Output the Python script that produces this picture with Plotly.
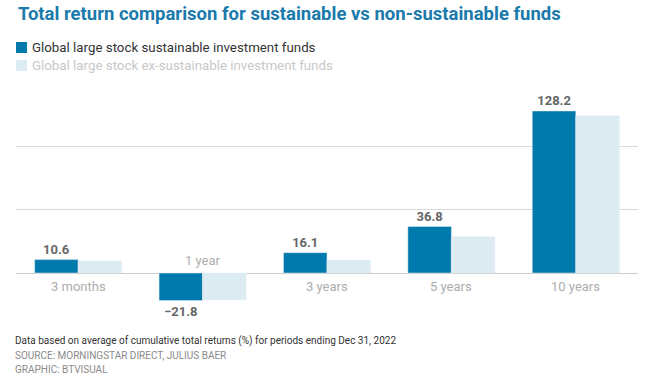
import plotly.graph_objects as go

categories = ["3 months", "1 year", "3 years", "5 years", "10 years"]
sustainable = [10.6, -21.8, 16.1, 36.8, 128.2]
ex_sustainable = [9.5, -21.3, 10.2, 28.6, 124.5]
series_names = ["Global large stock sustainable investment funds",
                "Global large stock ex-sustainable investment funds"]
title_text = "Total return comparison for sustainable vs non-sustainable funds"
footnotes = ["Data based on average of cumulative total returns (%) for periods ending Dec 31, 2022",
             "SOURCE: MORNINGSTAR DIRECT, JULIUS BAER",
             "GRAPHIC: BTVISUAL"]

DARK = "#0079ad"
LIGHT = "#ddebf2"
FONT = "Roboto"

W, H = 667, 380
L, R, T, B = 16, 29, 90, 50
PW, PH = W - L - R, H - T - B


def xp(px):
    return (px - L) / PW


def yp(py):
    return (H - B - py) / PH


fig = go.Figure()
fig.add_trace(go.Bar(
    x=categories, y=sustainable, name=series_names[0], marker_color=DARK,
    text=[f"{v:.1f}".replace("-", "\u2212") for v in sustainable], textposition="outside",
    textfont=dict(family=FONT, size=13, color="#666666", weight="bold"),
    cliponaxis=False, constraintext="none", showlegend=False,
))
fig.add_trace(go.Bar(
    x=categories, y=ex_sustainable, name=series_names[1], marker_color=LIGHT,
    showlegend=False,
))

# category labels near zero line
for c, v in zip(categories, sustainable):
    if v >= 0:
        fig.add_annotation(x=c, y=0, text=c, showarrow=False, yanchor="top", yshift=-4,
                           font=dict(family=FONT, size=13, color="#adadad"))
    else:
        fig.add_annotation(x=c, y=0, text=c, showarrow=False, yanchor="bottom", yshift=3,
                           font=dict(family=FONT, size=13, color="#adadad"))

# title
fig.add_annotation(xref="paper", yref="paper", x=xp(16), y=yp(14), xanchor="left", yanchor="middle",
                   text=f"<b>{title_text}</b>", showarrow=False,
                   font=dict(family=FONT, size=18.5, color="#1a7aab"))

# legend (manual)
legend_colors = [DARK, LIGHT]
legend_text_colors = ["#333333", "#c8c8c8"]
for i, (nm, col, tc) in enumerate(zip(series_names, legend_colors, legend_text_colors)):
    cy = 47.5 + i * 18
    fig.add_shape(type="rect", xref="paper", yref="paper",
                  x0=xp(16), x1=xp(27), y0=yp(cy - 5.5), y1=yp(cy + 5.5),
                  fillcolor=col, line=dict(width=0))
    fig.add_annotation(xref="paper", yref="paper", x=xp(30), y=yp(cy), xanchor="left", yanchor="middle",
                       text=nm, showarrow=False, font=dict(family=FONT, size=13.3, color=tc))

# footnotes
foot_y = [341, 355, 369]
foot_col = ["#333333", "#8a8a8a", "#8a8a8a"]
for t, fy, fc in zip(footnotes, foot_y, foot_col):
    fig.add_annotation(xref="paper", yref="paper", x=xp(13), y=yp(fy), xanchor="left", yanchor="middle",
                       text=t, showarrow=False, font=dict(family=FONT, size=10, color=fc))

fig.update_layout(
    width=W, height=H,
    margin=dict(l=L, r=R, t=T, b=B, pad=0),
    paper_bgcolor="white", plot_bgcolor="white",
    barmode="group", bargap=0.3, bargroupgap=0,
    font=dict(family=FONT),
    xaxis=dict(showticklabels=False, showgrid=False, showline=False, ticks=""),
    yaxis=dict(range=[-(H - B - 273) / 1.2637, (273 - T) / 1.2637],
               tickvals=[0, 50, 100], showticklabels=False,
               gridcolor="#d9d9d9", gridwidth=1,
               zeroline=True, zerolinecolor="#cccccc", zerolinewidth=1,
               showline=False, ticks=""),
)

fig.write_html("out.html", config={"displayModeBar": False},
               post_script="document.body.style.margin='0px';document.body.style.overflow='hidden';")
